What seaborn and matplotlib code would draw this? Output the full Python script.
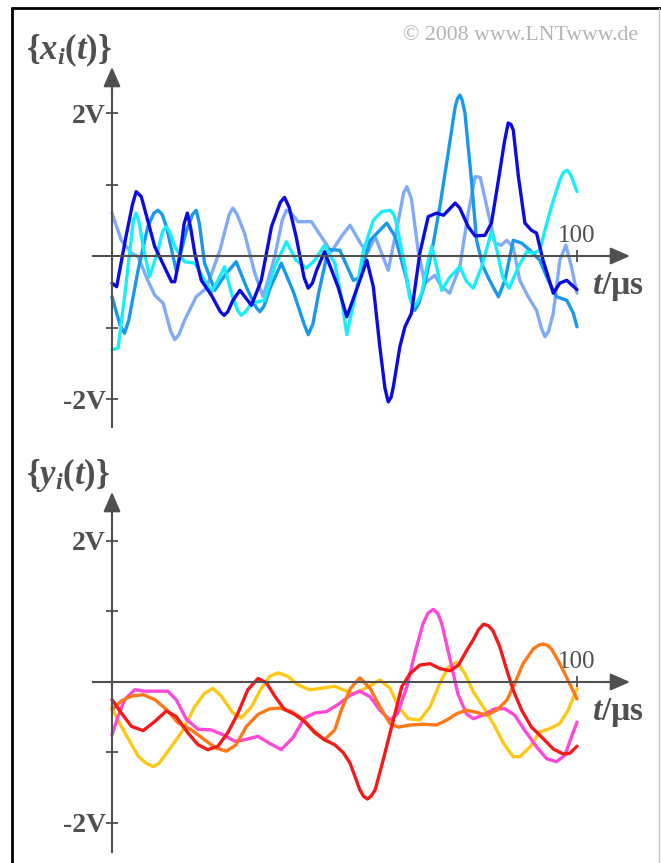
import matplotlib
matplotlib.use("Agg")
import matplotlib.pyplot as plt
from matplotlib.lines import Line2D
import seaborn as sns

# ---- Musterfunktionen {x_i(t)} (t in us, Werte in V) ----
xd_t = [0, 1, 3, 4.4, 5.2, 6.3, 9.2, 12.8, 13.5, 14.6, 15.5, 16.2, 16.9, 17.8, 19.2, 21.4, 23.3, 24.1,
        24.9, 26, 27.5, 30, 32.1, 34.3, 36.2, 37.1, 38.1, 39.6, 41.3, 42.2, 43.1, 44, 45.7, 48.6, 50.5,
        53.3, 54.8, 56.2, 57.6, 58.7, 59.4, 60, 60.5, 61.9, 63, 64.4, 66.2, 68, 69.8, 71.3, 73.8, 74.8,
        76.6, 78.1, 80.2, 81.6, 83.1, 84.4, 85.2, 85.8, 86.3, 87.4, 88.8, 90.2, 91.3, 92.7, 94.9, 96.3,
        97.8, 100]
xd_v = [-0.38, -0.43, 0.27, 0.72, 0.90, 0.83, 0.13, -0.36, -0.36, 0.0, 0.45, 0.60, 0.40, 0.04, -0.34,
        -0.55, -0.78, -0.83, -0.78, -0.62, -0.48, -0.69, -0.34, 0.41, 0.75, 0.82, 0.68, 0.27, -0.30,
        -0.45, -0.38, -0.2, 0.06, -0.43, -0.85, -0.34, -0.06, -0.43, -1.27, -1.85, -2.04, -1.98, -1.83,
        -1.27, -0.99, -0.80, 0.04, 0.55, 0.60, 0.57, 0.74, 0.67, 0.41, 0.28, 0.29, 0.46, 1.06, 1.6,
        1.86, 1.84, 1.76, 1.11, 0.46, 0.36, 0.32, -0.06, -0.52, -0.38, -0.34, -0.47]

xm_t = [0, 1.8, 2.7, 3.6, 5.6, 7.7, 9.0, 9.9, 10.8, 11.7, 13.8, 16, 17.3, 18.1, 18.8, 19.9, 22.1, 24.5,
        26.7, 29, 31, 31.8, 32.7, 34, 36.4, 39, 41.3, 42.2, 43.2, 44.5, 46.5, 49, 51.9, 53.3, 55.5,
        59.1, 60.9, 63.4, 64.3, 65.1, 66, 67.3, 69.1, 70.5, 72.3, 73.8, 74.3, 74.8, 75.3, 75.9, 77.3,
        78.4, 79.8, 81.2, 83.1, 84.5, 86.3, 88.1, 89.9, 92, 93.8, 95.6, 97.8, 99.2, 100]
xm_v = [-0.57, -0.98, -1.08, -0.9, -0.20, 0.41, 0.6, 0.64, 0.58, 0.41, -0.20, 0.35, 0.58, 0.64, 0.45,
        -0.10, -0.48, -0.25, -0.08, -0.45, -0.72, -0.78, -0.7, -0.45, -0.10, -0.5, -0.95, -1.10, -0.95,
        -0.5, 0.09, 0.08, -0.34, -0.30, 0.22, 0.46, 0.27, -0.34, -0.62, -0.76, -0.66, -0.38, 0.18, 0.69,
        1.44, 2.09, 2.2, 2.25, 2.18, 2.00, 1.06, 0.22, -0.15, -0.34, -0.57, -0.34, 0.22, 0.18, 0.08,
        -0.06, -0.34, -0.57, -0.62, -0.80, -0.99]

xl_t = [0, 2, 4.2, 5.6, 7.7, 9.2, 11, 12.6, 13.5, 14.4, 15.6, 18.1, 20.3, 23.2, 25.2, 26, 26.9, 28.5,
        30.7, 32.5, 35, 36.6, 37.5, 38.5, 40, 42.9, 45, 47.2, 49.3, 51.2, 53.7, 55, 56.6, 59.4, 61.9,
        62.7, 63.4, 64.4, 65.9, 67.3, 69.4, 70.9, 72.6, 74.8, 76.6, 78.1, 79.2, 80.9, 82.4, 83.7, 84.9,
        86.3, 87.7, 89.5, 91.3, 92.3, 93.1, 93.9, 94.9, 96.3, 97.6, 98.8, 100]
xl_v = [0.60, 0.22, 0.04, -0.01, -0.34, -0.55, -0.66, -1.05, -1.17, -1.1, -0.90, -0.57, -0.45, 0.08,
        0.58, 0.67, 0.58, 0.32, -0.24, -0.57, -0.01, 0.5, 0.64, 0.6, 0.48, 0.48, 0.27, 0.06, 0.27, 0.43,
        0.15, 0.05, 0.27, -0.20, 0.60, 0.88, 0.97, 0.8, 0.04, -0.38, -0.27, -0.43, -0.52, -0.15, 0.60,
        1.11, 1.1, 0.60, 0.18, 0.15, 0.22, 0.12, -0.34, -0.57, -0.76, -1.0, -1.13, -1.05, -0.80, -0.06,
        0.15, -0.15, -0.52]

xc_t = [0, 1.3, 2.7, 4.2, 4.6, 5.2, 5.9, 6.7, 8.1, 9.9, 10.9, 11.7, 12.5, 13.5, 15.6, 17.8, 19.9, 21.4,
        23.2, 24.2, 25.7, 27, 27.8, 28.7, 30, 32.8, 35, 37.5, 39.6, 41.8, 43.6, 45.7, 47.9, 49.3, 50.5,
        52.5, 54.1, 56.2, 58, 59.8, 60.6, 61.2, 63, 64, 64.8, 65.6, 66.6, 68, 68.8, 69.8, 70.9, 72.6,
        74.8, 76.2, 77.7, 79.5, 81.6, 82.6, 84, 85.4, 87.4, 89.2, 90.6, 92, 93.1, 94.5, 96.3, 97.1,
        97.9, 98.6, 100]
xc_v = [-1.31, -1.29, -0.57, 0.27, 0.5, 0.60, 0.45, 0.13, -0.29, 0.08, 0.35, 0.41, 0.32, 0.13, -0.08,
        -0.10, -0.34, -0.50, -0.29, -0.15, -0.52, -0.76, -0.83, -0.78, -0.66, -0.62, -0.15, 0.20, -0.06,
        -0.17, -0.06, 0.15, -0.10, -0.57, -1.10, -0.5, 0.08, 0.50, 0.62, 0.64, 0.58, 0.45, -0.15, -0.58,
        -0.71, -0.66, -0.52, -0.06, 0.13, -0.15, -0.48, -0.3, -0.15, -0.35, -0.45, -0.15, 0.34, 0.13,
        -0.29, -0.45, -0.15, 0.06, 0.04, 0.08, 0.36, 0.69, 1.06, 1.17, 1.20, 1.14, 0.90]

# ---- Musterfunktionen {y_i(t)} ----
yg_t = [0, 2, 5.6, 7.3, 8.8, 10, 11.3, 14.9, 17.8, 19.9, 21.7, 23.5, 26, 27.8, 30, 32.1, 33.9, 35.7,
        37.8, 40, 42.5, 45, 47.9, 49, 51.9, 54.8, 57.6, 59.8, 61.6, 63.7, 66.2, 68.4, 70.5, 72.3, 74.1,
        75.9, 77.7, 79.8, 82, 84.2, 86.3, 87.7, 89.9, 92, 94.2, 96.3, 98.1, 100]
yg_v = [-0.37, -0.63, -1.05, -1.15, -1.20, -1.16, -1.05, -0.72, -0.35, -0.16, -0.09, -0.20, -0.44,
        -0.51, -0.35, -0.09, 0.08, 0.13, 0.08, -0.04, -0.11, -0.09, -0.06, -0.09, -0.17, -0.08, 0.03,
        -0.09, -0.35, -0.52, -0.54, -0.35, -0.02, 0.21, 0.28, 0.12, -0.14, -0.35, -0.59, -0.87, -1.06,
        -1.06, -0.92, -0.71, -0.66, -0.59, -0.40, -0.09]

ym_t = [0, 1.3, 2.7, 4.9, 7, 9.9, 12, 13.8, 16, 18.5, 21.4, 23.9, 26.4, 28.5, 31.4, 33.9, 36.4, 38.9,
        41.4, 43.6, 46.1, 48.6, 51.2, 53.3, 55.5, 57.6, 59.8, 61.4, 63.4, 65.1, 66.9, 68, 69.1, 70.1,
        70.9, 72.6, 74.4, 76.2, 77.7, 79.8, 82.3, 84.5, 86.6, 88.8, 91.3, 93.5, 95.6, 97.4, 98.8, 100]
ym_v = [-0.75, -0.49, -0.25, -0.11, -0.13, -0.13, -0.13, -0.25, -0.53, -0.67, -0.68, -0.75, -0.84,
        -0.82, -0.77, -0.87, -0.96, -0.79, -0.51, -0.44, -0.42, -0.32, -0.19, -0.13, -0.21, -0.40,
        -0.54, -0.45, -0.07, 0.40, 0.83, 0.98, 1.03, 0.97, 0.83, 0.35, -0.17, -0.45, -0.52, -0.47,
        -0.38, -0.38, -0.47, -0.69, -0.92, -1.09, -1.13, -1.04, -0.78, -0.57]

yo_t = [0, 2, 4.2, 6.7, 9.2, 11.7, 14.2, 17.1, 19.9, 22.4, 24.6, 26.7, 28.9, 31.4, 33.9, 36.1, 38.6,
        41.1, 43.2, 45.7, 47.9, 49.3, 51.2, 53.3, 55.5, 57.6, 59.8, 61.6, 64.1, 67, 69.8, 72, 74.1,
        76.2, 78.4, 80.5, 82.7, 84.9, 86.6, 88.4, 90.6, 91.7, 92.7, 93.6, 94.5, 96.3, 98.4, 100]
yo_v = [-0.39, -0.27, -0.20, -0.18, -0.25, -0.39, -0.58, -0.68, -0.82, -0.94, -0.98, -0.89, -0.63,
        -0.46, -0.38, -0.37, -0.42, -0.53, -0.68, -0.82, -0.68, -0.40, -0.1, 0.06, -0.09, -0.35, -0.59,
        -0.64, -0.61, -0.60, -0.61, -0.54, -0.45, -0.40, -0.43, -0.47, -0.40, -0.26, -0.02, 0.26, 0.47,
        0.52, 0.54, 0.52, 0.47, 0.26, -0.02, -0.24]

yr_t = [0, 2, 4.2, 6.7, 9.2, 11.7, 13.8, 16.3, 18.5, 20.6, 22.8, 24.9, 27.1, 29.2, 31.4, 33.2, 35,
        37.1, 39.3, 41.4, 43.6, 45.7, 47.9, 49.7, 51.2, 53.3, 54.1, 54.9, 55.7, 56.6, 58.3, 60.5, 62.3,
        64.1, 66.2, 68.4, 70.5, 72.7, 74.5, 76.3, 77.7, 78.8, 79.9, 80.9, 81.9, 83.4, 84.9, 86.3, 88.1,
        90.2, 92.7, 94.9, 97, 98.5, 100]
yr_v = [-0.25, -0.44, -0.63, -0.69, -0.56, -0.41, -0.49, -0.72, -0.89, -0.96, -0.91, -0.72, -0.44,
        -0.11, 0.05, -0.01, -0.20, -0.39, -0.46, -0.56, -0.72, -0.82, -0.89, -1.0, -1.15, -1.53, -1.62,
        -1.66, -1.62, -1.53, -1.11, -0.54, -0.07, 0.12, 0.24, 0.26, 0.19, 0.16, 0.24, 0.45, 0.60, 0.74,
        0.82, 0.80, 0.73, 0.50, 0.17, -0.12, -0.40, -0.64, -0.80, -0.95, -1.02, -1.01, -0.91]

y_ticks = [-2, -1, 1, 2]
y_ticklabels = ["-2V", "", "", "2V"]
x_ticks = [100]
x_ticklabels = ["100"]

sns.set_style("white")
plt.rcParams["font.family"] = ["Liberation Serif", "DejaVu Serif"]
plt.rcParams["mathtext.fontset"] = "custom"
plt.rcParams["mathtext.rm"] = "Liberation Serif:bold"
plt.rcParams["mathtext.it"] = "Liberation Serif:italic:bold"
plt.rcParams["mathtext.bf"] = "Liberation Serif:bold"

W, H = 661, 863
GREY = "#505050"
fig = plt.figure(figsize=(W / 100, H / 100), dpi=100)


def panel(y0, ppv, top, bot, ytip_px, ybot_px, series, title, title_y):
    # Pixellayout: t=0 bei x=112 px, 4.65 px pro us
    x0, ppt, left, right = 112, 4.65, 80, 650
    ax = fig.add_axes([left / W, 1 - bot / H, (right - left) / W, (bot - top) / H])
    for t, v, c, a in series:
        sns.lineplot(x=t, y=v, ax=ax, color=c, alpha=a, lw=2.4, sort=False,
                     estimator=None, legend=False, solid_joinstyle="round",
                     solid_capstyle="round")
    ax.set_xlim((left - x0) / ppt, (right - x0) / ppt)
    ax.set_ylim((y0 - bot) / ppv, (y0 - top) / ppv)
    ax.patch.set_alpha(0)
    ax.set_xlabel("")
    ax.set_ylabel("")

    ax.spines["right"].set_visible(False)
    ax.spines["top"].set_visible(False)
    for s in ["left", "bottom", "top"]:
        ax.spines[s].set_position(("data", 0))
    for s in ["left", "bottom"]:
        ax.spines[s].set_color(GREY)
        ax.spines[s].set_linewidth(1.5)
    ytip = (y0 - ytip_px) / ppv
    ybot = (y0 - ybot_px) / ppv
    xtip = 111.4
    ax.spines["left"].set_bounds(ybot, ytip - 0.1)
    ax.spines["bottom"].set_bounds(-4.1, xtip - 2)
    head = dict(arrowstyle="-|>,head_length=0.8,head_width=0.35", color=GREY, lw=1.5,
                mutation_scale=15, shrinkA=0, shrinkB=0)
    ax.annotate("", xy=(0, ytip), xytext=(0, ytip - 0.4), arrowprops=head)
    ax.annotate("", xy=(xtip, 0), xytext=(xtip - 6, 0), arrowprops=head)

    ax.yaxis.set_ticks_position("left")
    ax.set_yticks(y_ticks, y_ticklabels)
    ax.xaxis.set_ticks_position("top")
    ax.set_xticks(x_ticks, x_ticklabels)
    ax.tick_params(axis="y", direction="inout", length=9, width=1.3, color=GREY,
                   labelcolor=GREY, labelsize=20, pad=0)
    ax.tick_params(axis="x", direction="inout", length=9, width=1.3, color=GREY,
                   labelcolor=GREY, labelsize=18, pad=2)
    for lbl in ax.get_yticklabels():
        lbl.set_fontweight("bold")

    ax.text(103.3, -0.43, r"$t$/µs", ha="left", va="center", fontsize=24,
            fontweight="bold", color=GREY)
    fig.text(26 / W, 1 - title_y / H, title, ha="left", va="center", fontsize=25, color=GREY)
    return ax


panel(256, 71.5, 50, 440, 67, 427,
      [(xl_t, xl_v, "#6b9cf6", 0.85), (xm_t, xm_v, "#1a98ec", 1.0),
       (xc_t, xc_v, "#19eef6", 1.0), (xd_t, xd_v, "#0c0ce0", 1.0)],
      r"$\{x_i(t)\}$", 50)
panel(682, 70.5, 470, 860, 492, 852,
      [(yg_t, yg_v, "#ffc814", 1.0), (ym_t, ym_v, "#ff48d8", 1.0),
       (yo_t, yo_v, "#ff7818", 1.0), (yr_t, yr_v, "#f51a1a", 1.0)],
      r"$\{y_i(t)\}$", 475)

fig.text(638 / W, 1 - 35 / H, "© 2008 www.LNTwww.de", ha="right", va="center",
         fontsize=15.7, color="#b4b4b4")

# Rahmen
fig.add_artist(Line2D([12 / W, 12 / W], [0, 1 - 8 / H], color="black", lw=2,
                      transform=fig.transFigure))
fig.add_artist(Line2D([12 / W, 660 / W], [1 - 8 / H, 1 - 8 / H], color="black", lw=2,
                      transform=fig.transFigure))
fig.add_artist(Line2D([659 / W, 659 / W], [0, 1 - 8 / H], color="#c8c8c8", lw=1,
                      transform=fig.transFigure))

fig.savefig("out.png", dpi=100, facecolor="white")
